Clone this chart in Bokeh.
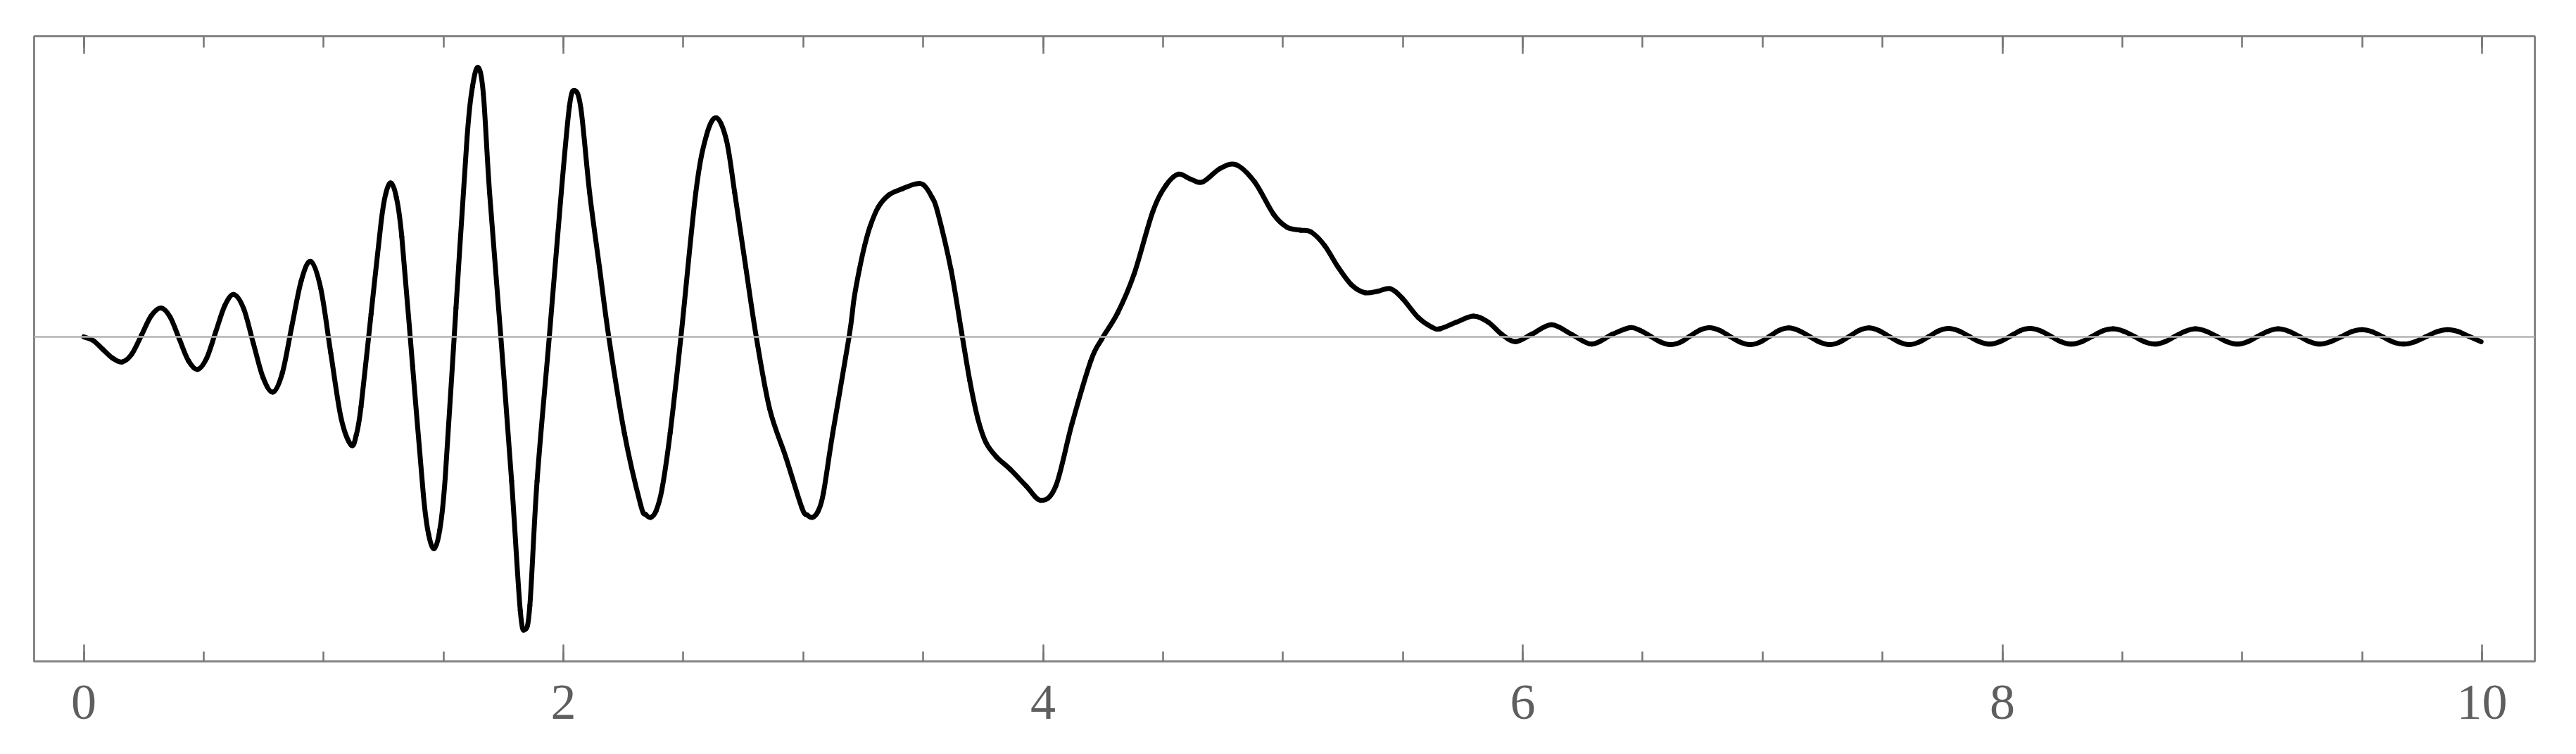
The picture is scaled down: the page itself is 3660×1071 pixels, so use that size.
from bokeh.plotting import figure
from bokeh.models import Range1d, LinearAxis, FixedTicker, Span, CustomJSTickFormatter, ColumnDataSource
from bokeh.embed import file_html
from bokeh.resources import INLINE

# ---- data ----
t_vals = [
    0.000, 0.040, 0.080, 0.120, 0.160, 0.200, 0.241, 0.281, 0.322, 0.360,
    0.398, 0.436, 0.474, 0.512, 0.550, 0.588, 0.626, 0.667, 0.707, 0.748,
    0.789, 0.828, 0.867, 0.907, 0.946, 0.988, 1.030, 1.073, 1.115, 1.136,
    1.156, 1.198, 1.240, 1.260, 1.281, 1.303, 1.326, 1.371, 1.416, 1.438,
    1.461, 1.484, 1.507, 1.552, 1.598, 1.621, 1.644, 1.666, 1.692, 1.739,
    1.784, 1.820, 1.840, 1.860, 1.890, 1.941, 1.991, 2.025, 2.047, 2.073,
    2.109, 2.150, 2.189, 2.254, 2.322, 2.343, 2.364, 2.386, 2.411, 2.445,
    2.490, 2.552, 2.596, 2.638, 2.680, 2.714, 2.760, 2.804, 2.860, 2.927,
    2.994, 3.016, 3.039, 3.062, 3.084, 3.123, 3.191, 3.212, 3.234, 3.256,
    3.279, 3.313, 3.357, 3.414, 3.470, 3.503, 3.537, 3.560, 3.616, 3.660,
    3.694, 3.728, 3.762, 3.806, 3.862, 3.930, 3.991, 4.053, 4.121, 4.199,
    4.244, 4.311, 4.379, 4.457, 4.513, 4.564, 4.614, 4.665, 4.738, 4.805,
    4.882, 4.961, 5.017, 5.073, 5.118, 5.174, 5.230, 5.286, 5.342, 5.398,
    5.448, 5.498, 5.565, 5.621, 5.655, 5.722, 5.795, 5.857, 5.913, 5.969,
    6.036, 6.120, 6.204, 6.288, 6.372, 6.446, 6.489, 6.531, 6.574, 6.616,
    6.657, 6.698, 6.738, 6.779, 6.821, 6.863, 6.905, 6.947, 6.988, 7.029,
    7.069, 7.110, 7.152, 7.195, 7.237, 7.279, 7.320, 7.362, 7.403, 7.444,
    7.486, 7.527, 7.569, 7.610, 7.651, 7.693, 7.734, 7.775, 7.818, 7.861,
    7.904, 7.947, 7.989, 8.032, 8.074, 8.116, 8.159, 8.202, 8.244, 8.287,
    8.331, 8.375, 8.418, 8.462, 8.505, 8.549, 8.592, 8.635, 8.678, 8.720,
    8.763, 8.805, 8.849, 8.893, 8.936, 8.980, 9.023, 9.065, 9.108, 9.150,
    9.194, 9.237, 9.281, 9.324, 9.368, 9.412, 9.455, 9.499, 9.542, 9.586,
    9.629, 9.672, 9.718, 9.765, 9.811, 9.857, 9.900, 9.945, 9.996,
]
signal = [
    0.000, -0.014, -0.047, -0.079, -0.093, -0.064, 0.007, 0.078, 0.107, 0.074,
    -0.007, -0.088, -0.121, -0.080, 0.018, 0.116, 0.157, 0.104, -0.024, -0.152,
    -0.205, -0.134, 0.037, 0.209, 0.280, 0.180, -0.061, -0.302, -0.402, -0.365,
    -0.260, 0.085, 0.428, 0.534, 0.571, 0.519, 0.372, -0.108, -0.587, -0.734,
    -0.786, -0.718, -0.524, 0.107, 0.738, 0.930, 1.000, 0.903, 0.536, 0.000,
    -0.536, -1.016, -1.086, -0.998, -0.536, 0.000, 0.536, 0.856, 0.914, 0.847,
    0.536, 0.260, 0.000, -0.357, -0.624, -0.659, -0.670, -0.647, -0.565, -0.357,
    0.000, 0.536, 0.747, 0.813, 0.729, 0.536, 0.260, 0.000, -0.268, -0.446,
    -0.634, -0.661, -0.670, -0.647, -0.580, -0.357, 0.000, 0.143, 0.250, 0.339,
    0.411, 0.482, 0.527, 0.550, 0.568, 0.563, 0.518, 0.464, 0.250, 0.018,
    -0.161, -0.304, -0.393, -0.446, -0.491, -0.554, -0.607, -0.554, -0.321, -0.089,
    -0.009, 0.089, 0.232, 0.464, 0.563, 0.604, 0.586, 0.575, 0.625, 0.639,
    0.575, 0.455, 0.407, 0.396, 0.389, 0.339, 0.259, 0.193, 0.164, 0.170,
    0.179, 0.143, 0.071, 0.036, 0.030, 0.054, 0.077, 0.054, 0.009, -0.018,
    0.009, 0.045, 0.009, -0.027, 0.009, 0.034, 0.024, 0.003, -0.019, -0.029,
    -0.020, 0.003, 0.025, 0.034, 0.024, 0.002, -0.019, -0.029, -0.020, 0.002,
    0.024, 0.033, 0.023, 0.002, -0.019, -0.029, -0.020, 0.002, 0.024, 0.033,
    0.023, 0.002, -0.019, -0.029, -0.020, 0.001, 0.022, 0.031, 0.022, 0.002,
    -0.018, -0.027, -0.018, 0.002, 0.023, 0.031, 0.022, 0.002, -0.018, -0.027,
    -0.018, 0.002, 0.022, 0.030, 0.021, 0.002, -0.018, -0.027, -0.018, 0.002,
    0.021, 0.030, 0.021, 0.002, -0.018, -0.027, -0.018, 0.002, 0.021, 0.030,
    0.021, 0.002, -0.018, -0.027, -0.018, 0.000, 0.019, 0.027, 0.019, 0.000,
    -0.019, -0.027, -0.019, 0.000, 0.019, 0.027, 0.020, 0.002, -0.018,
]
major_ticks = [0, 2, 4, 6, 8, 10]
minor_ticks = [0, 0.5, 1, 1.5, 2, 2.5, 3, 3.5, 4, 4.5, 5, 5.5, 6, 6.5,
               7, 7.5, 8, 8.5, 9, 9.5, 10]

FRAME = "#858585"
TICK = "#767676"
LABEL = "#5e5e5e"

p = figure(frame_width=3553, frame_height=888,
           x_range=Range1d(-0.207, 10.22), y_range=Range1d(-1.205, 1.116),
           x_axis_location=None, y_axis_location=None,
           output_backend="svg", toolbar_location=None,
           min_border_left=48, min_border_top=51, min_border_right=55,
           min_border_bottom=125, background_fill_color="white",
           border_fill_color="white")
p.grid.visible = False
p.outline_line_color = FRAME
p.outline_line_width = 3

ticker = FixedTicker(ticks=major_ticks, minor_ticks=minor_ticks)

bottom = LinearAxis(ticker=ticker, axis_line_color=None,
                    major_tick_in=24, major_tick_out=0,
                    minor_tick_in=14, minor_tick_out=0,
                    major_tick_line_color=TICK, major_tick_line_width=2.5,
                    minor_tick_line_color=TICK, minor_tick_line_width=2.5,
                    major_label_text_font="Liberation Serif",
                    major_label_text_font_size="72px",
                    major_label_text_color=LABEL,
                    major_label_standoff=34)
p.add_layout(bottom, "below")

top = LinearAxis(ticker=ticker, axis_line_color=None,
                 major_tick_in=25, major_tick_out=0,
                 minor_tick_in=16, minor_tick_out=0,
                 major_tick_line_color=TICK, major_tick_line_width=2.5,
                 minor_tick_line_color=TICK, minor_tick_line_width=2.5,
                 formatter=CustomJSTickFormatter(code="return ''"),
                 major_label_text_font_size="0px",
                 major_label_standoff=0)
p.add_layout(top, "above")

p.add_layout(Span(location=0, dimension="width", line_color="#b4b4b4",
                  line_width=2.5))

# smooth rendering of the read points: Catmull-Rom segments drawn as Bezier curves
n = len(t_vals)
seg = dict(x0=[], y0=[], x1=[], y1=[], cx0=[], cy0=[], cx1=[], cy1=[])
for i in range(n - 1):
    a = i - 1 if i > 0 else i
    d = i + 2 if i + 2 < n else i + 1
    seg["x0"].append(t_vals[i]); seg["y0"].append(signal[i])
    seg["x1"].append(t_vals[i + 1]); seg["y1"].append(signal[i + 1])
    seg["cx0"].append(t_vals[i] + (t_vals[i + 1] - t_vals[a]) / 6)
    seg["cy0"].append(signal[i] + (signal[i + 1] - signal[a]) / 6)
    seg["cx1"].append(t_vals[i + 1] - (t_vals[d] - t_vals[i]) / 6)
    seg["cy1"].append(signal[i + 1] - (signal[d] - signal[i]) / 6)

p.bezier(x0="x0", y0="y0", x1="x1", y1="y1", cx0="cx0", cy0="cy0",
         cx1="cx1", cy1="cy1", source=ColumnDataSource(seg),
         line_color="black", line_width=7, line_cap="round")

open("out.html", "w").write(file_html(p, INLINE))
